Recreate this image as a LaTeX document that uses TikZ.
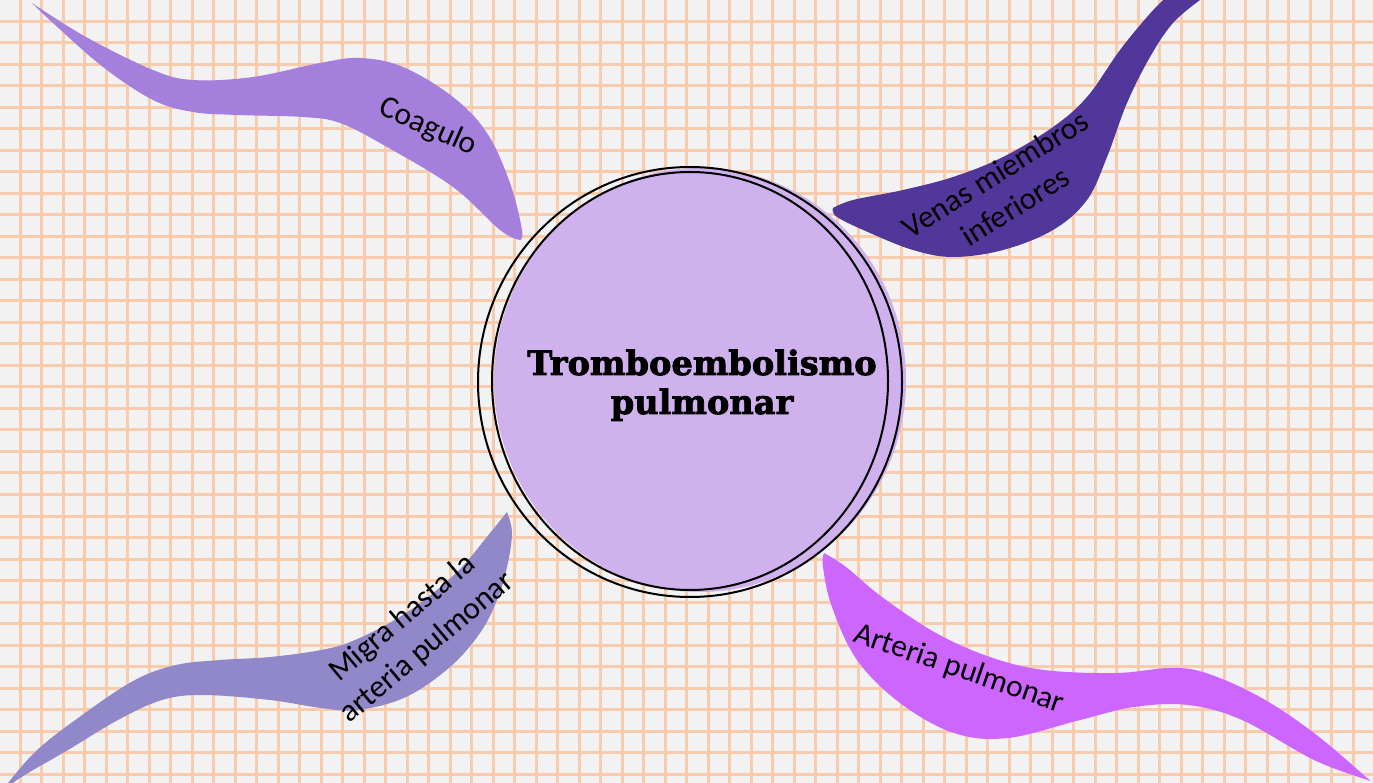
\documentclass[tikz,border=0pt]{standalone}
\usepackage{fontspec}
\setmainfont{Carlito}
\newfontfamily\titlefont{DejaVu Serif}[BoldFont={DejaVu Serif Bold}, BoldFeatures={FakeBold=2.5}]
\definecolor{bgc}{HTML}{F2F2F2}
\definecolor{gridc}{HTML}{F8CBAD}
\definecolor{coag}{HTML}{A57FDC}
\definecolor{venas}{HTML}{51379A}
\definecolor{migra}{HTML}{9088C8}
\definecolor{arter}{HTML}{CC66FF}
\definecolor{circ}{HTML}{CFB1EE}
\tikzset{
  gridline/.style={gridc, line width=3pt},
  label/.style={font=\fontsize{31.5}{38}\selectfont, text=black, align=center, inner sep=0pt},
  titletext/.style={font=\titlefont\bfseries\fontsize{33.6}{38}\selectfont, text=black, inner sep=0pt, anchor=base},
  ring/.style={draw=black, line width=2pt},
}
\begin{document}
\begin{tikzpicture}[x=1pt,y=-1pt]
\useasboundingbox (0,0) rectangle (1374,783);
\begin{scope}
\clip (0,0) rectangle (1374,783);
\fill[bgc] (0,0) rectangle (1374,783);
\foreach \k in {-1,...,63} \draw[gridline] ({20+21.5*\k},0) -- ({20+21.5*\k},783);
\foreach \k in {1,...,36} \draw[gridline] (0,{21.5*\k}) -- (1374,{21.5*\k});

% Coagulo swoosh
\fill[coag] plot[smooth, tension=0.6] coordinates {(32,3) (86,37) (153,70) (193,80) (253,77) (320,63) (360,58) (403,67) (453,97) (487,133) (510,183) (522,230) (520,240)}
  -- plot[smooth, tension=0.6] coordinates {(520,240) (500,230) (453,187) (387,147) (340,123) (303,117) (237,115) (193,112) (153,100) (103,67) (53,23) (32,3)} -- cycle;

% Venas swoosh
\fill[venas] plot[smooth, tension=0.6] coordinates {(833,208) (853,200) (903,190) (953,177) (1003,157) (1053,127) (1087,97) (1120,50) (1147,17) (1163,0) (1175,-12)}
  -- (1210,-12)
  -- plot[smooth, tension=0.6] coordinates {(1200,0) (1173,23) (1150,57) (1127,103) (1107,157) (1087,200) (1053,230) (1003,250) (953,257) (913,250) (870,233) (837,217) (833,208)} -- cycle;

% Migra swoosh
\fill[migra] plot[smooth, tension=0.6] coordinates {(507,512) (512,533) (507,567) (497,600) (480,633) (450,667) (406,697) (358,710) (321,708) (270,700) (203,695) (162,700) (118,720) (68,750) (17,780) (-5,800)}
  -- plot[smooth, tension=0.6] coordinates {(-5,800) (34,753) (85,713) (135,680) (176,665) (220,660) (270,657) (321,650) (355,640) (406,613) (456,573) (490,533) (507,512)} -- cycle;

% Arteria swoosh
\fill[arter] plot[smooth, tension=0.6] coordinates {(824,553) (846,567) (882,597) (936,633) (990,657) (1044,670) (1116,673) (1170,668) (1206,673) (1260,697) (1314,733) (1366,777) (1368,780)}
  -- plot[smooth, tension=0.6] coordinates {(1368,780) (1314,760) (1242,720) (1188,705) (1134,707) (1080,720) (1008,738) (954,733) (900,703) (857,660) (832,607) (823,567) (824,553)} -- cycle;

% central circle
\fill[circ] (700,380) ellipse [x radius=206, y radius=212];
\draw[ring] (690,382) ellipse [x radius=212, y radius=215];
\draw[ring] (690,381) ellipse [x radius=198, y radius=209];
\end{scope}

\node[titletext] (title1) at (702,375) {Tromboembolismo};
\node[titletext] (title2) at (702,414) {pulmonar};

\node[label, rotate=-24] (coagulo) at (428,127) {Coagulo};
\node[label, rotate=32] (venaslbl) at (1005,190) {Venas miembros\\inferiores};
\node[label, rotate=40] (migralbl) at (415,633) {Migra hasta la\\arteria pulmonar};
\node[label, rotate=-19] (arterlbl) at (959,669) {Arteria pulmonar};
\end{tikzpicture}
\end{document}
